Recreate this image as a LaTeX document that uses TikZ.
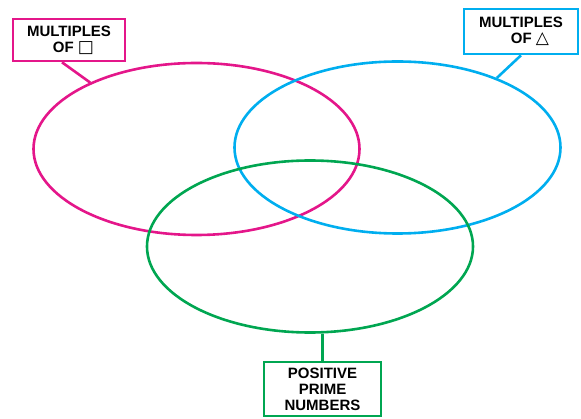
\documentclass[tikz,border=0pt]{standalone}
\usepackage{fontspec}
\setmainfont{Liberation Sans}
\newfontfamily\symfont{DejaVu Sans}
\usetikzlibrary{shapes.geometric}

\definecolor{setpink}{RGB}{228,22,138}
\definecolor{setblue}{RGB}{0,174,239}
\definecolor{setgreen}{RGB}{0,166,81}

\begin{document}
\begin{tikzpicture}[x=1pt,y=-1pt]
\tikzstyle{setring}=[ellipse, draw, line width=2.6pt, inner sep=0pt, minimum width=326pt, minimum height=172pt]
\tikzstyle{tag}=[rectangle, draw, line width=2.6pt, fill=white, text=black, align=center, inner sep=0pt, font=\fontsize{15}{16}\selectfont\bfseries]
\tikzstyle{lead}=[line width=2.6pt]

\useasboundingbox (0,0) rectangle (581,419);

% the three sets
\node[setring, draw=setpink] (sqrset) at (196.5,149) {};
\node[setring, draw=setblue] (triset) at (397.5,147.5) {};
\node[setring, draw=setgreen] (primeset) at (310,246.5) {};

% labels
\node[tag, draw=setpink, minimum width=112pt, minimum height=42pt] (sqr) at (69,40)
  {MULTIPLES\\\hspace{0.6em}OF {\symfont\fontsize{17}{16}\selectfont □}};
\node[tag, draw=setblue, minimum width=114pt, minimum height=45pt] (tri) at (521,31.5)
  {MULTIPLES\\\hspace{1.2em}OF {\symfont\fontsize{17}{16}\selectfont △}};
\node[tag, draw=setgreen, minimum width=117pt, minimum height=54pt] (prime) at (322.5,389)
  {POSITIVE\\PRIME\\NUMBERS};

\draw[lead, setpink] ([xshift=-7pt]sqr.south) -- (sqrset.148);
\draw[lead, setblue] (tri.south) -- (triset.35);
\draw[lead, setgreen] (prime.north) -- (prime.north |- primeset.south);
\end{tikzpicture}
\end{document}
